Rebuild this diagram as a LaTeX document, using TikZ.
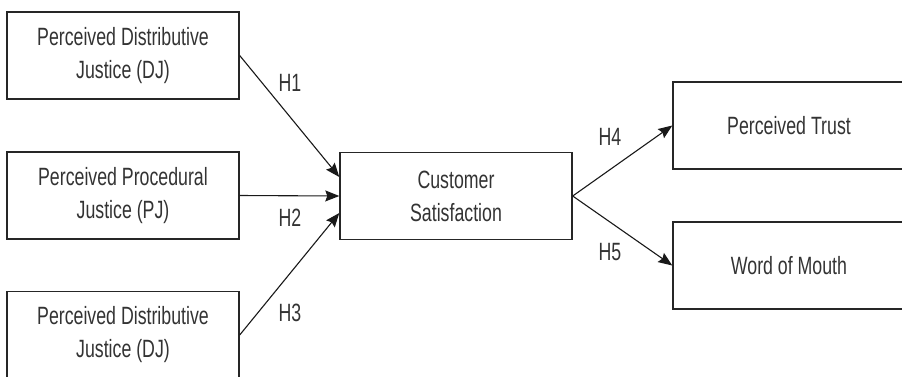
\documentclass[tikz,border=0pt]{standalone}
\usepackage{fontspec}
\setmainfont[FakeStretch=0.71]{Liberation Sans}
\usetikzlibrary{arrows.meta}

\begin{document}
\begin{tikzpicture}[x=1pt, y=-1pt,
    construct/.style={draw=black!85, line width=1.4pt, text=black!80,
      minimum width=232pt, minimum height=87pt, align=center,
      font=\fontsize{25}{33}\selectfont, inner sep=0pt},
    hyp/.style={->, >={Stealth[length=14pt, width=11pt, inset=2pt]},
      draw=black!90, line width=1.1pt},
    hlabel/.style={text=black!80, font=\fontsize{25}{27}\selectfont}]
  \useasboundingbox (0,0) rectangle (902,376);
  \clip (0,0) rectangle (902,376);
  % Antecedents (gauche)
  \node[construct] (dj1) at (123,55.5) {Perceived Distributive\\Justice (DJ)};
  \node[construct] (pj) at (123,195.5) {Perceived Procedural\\Justice (PJ)};
  \node[construct] (dj2) at (123,335) {Perceived Distributive\\Justice (DJ)};
  % Variable centrale
  \node[construct] (cs) at (456,196) {Customer\\Satisfaction};
  % Consequences (droite)
  \node[construct] (trust) at (789,125.5) {Perceived Trust};
  \node[construct] (wom) at (789,265.5) {Word of Mouth};
  % Hypotheses H1--H3
  \draw[hyp] (dj1.east) -- ([yshift=19pt]cs.west);
  \draw[hyp] (pj.east) -- (cs.west);
  \draw[hyp] (dj2.east) -- ([yshift=-17pt]cs.west);
  \node[hlabel] (h1) at (290,83) {H1};
  \node[hlabel] (h2) at (290,218) {H2};
  \node[hlabel] (h3) at (290,313) {H3};
  % Hypotheses H4--H5
  \draw[hyp] (cs.east) -- (trust.west);
  \draw[hyp] (cs.east) -- (wom.west);
  \node[hlabel] (h4) at (610,137) {H4};
  \node[hlabel] (h5) at (610,252) {H5};
\end{tikzpicture}
\end{document}
